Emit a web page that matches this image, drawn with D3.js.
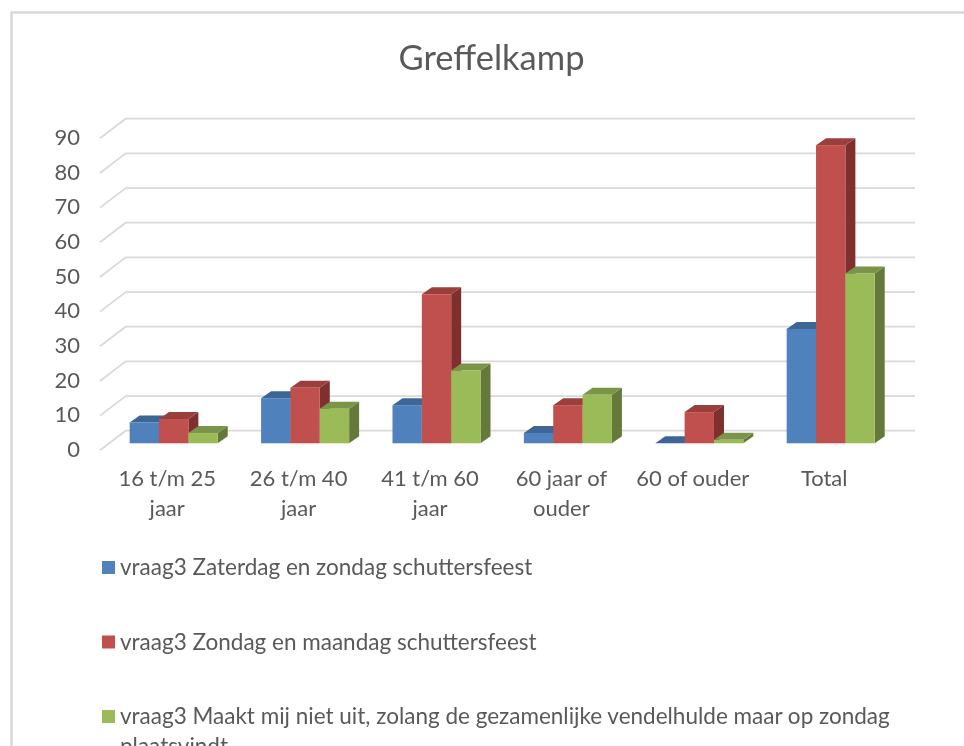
<!DOCTYPE html>
<html>
<head>
<meta charset="utf-8">
<script src="https://cdn.jsdelivr.net/npm/d3@7"></script>
<style>
html, body { margin: 0; padding: 0; background: #fff; overflow: hidden; }
svg { display: block; filter: blur(0.5px); }
text { font-family: Lato, "Open Sans", sans-serif; fill: #595959; }
</style>
</head>
<body>
<svg id="chart" width="964" height="746"></svg>
<script>
// chart data
var categories = [["16 t/m 25", "jaar"], ["26 t/m 40", "jaar"], ["41 t/m 60", "jaar"], ["60 jaar of", "ouder"], ["60 of ouder"], ["Total"]];
var zaterdag = [6, 13, 11, 3, 0, 33];
var zondag = [7, 16, 43, 11, 9, 86];
var maaktNietUit = [3, 10, 21, 14, 1, 49];
var yTicks = [0, 10, 20, 30, 40, 50, 60, 70, 80, 90];
var legendLabels = [
	["vraag3 Zaterdag en zondag schuttersfeest"],
	["vraag3 Zondag en maandag schuttersfeest"],
	["vraag3 Maakt mij niet uit, zolang de gezamenlijke vendelhulde maar op zondag", "plaatsvindt"]
];

var seriesValues = [zaterdag, zondag, maaktNietUit];
var colors = [
	{front: "#4f81bd", top: "#3d6696", side: "#2f5280"},
	{front: "#c0504d", top: "#9b3f3d", side: "#7f2f2d"},
	{front: "#9bbb59", top: "#7a9448", side: "#657a3a"}
];
var depthX = 10, depthY = 7;
var wallY = 12.6;

var svg = d3.select("#chart");

// frame of the chart area, cut off by the window on the right and bottom
svg.append("path")
	.attr("d", "M11.5,746V12.5H964")
	.attr("fill", "none")
	.attr("stroke", "#d9d9d9")
	.attr("stroke-width", 2.5);

svg.append("text")
	.attr("x", 491.5)
	.attr("y", 70)
	.attr("text-anchor", "middle")
	.style("font-size", "34.5px")
	.text("Greffelkamp");

var y = d3.scaleLinear().domain([0, 90]).range([443.3, 131.3]);
var x0 = d3.scaleBand()
	.domain(d3.range(categories.length))
	.range([108, 108 + 131.4 * categories.length])
	.paddingInner(0.33)
	.paddingOuter(0.165);
var x1 = d3.scaleBand().domain(d3.range(seriesValues.length)).range([0, x0.bandwidth()]);

// gridlines on the floor and back wall
svg.append("g").selectAll("path").data(yTicks).enter().append("path")
	.attr("d", function(d) {
		var py = y(d);
		return "M100," + (py + 7) + "L125.7," + (py - wallY) + "H915";
	})
	.attr("fill", "none")
	.attr("stroke", "#d9d9d9")
	.attr("stroke-width", 1.8);

var yAxis = d3.axisLeft(y).tickValues(yTicks).tickSize(0).tickPadding(0);
var yG = svg.append("g").attr("transform", "translate(80,6)").call(yAxis);
yG.select(".domain").remove();
yG.selectAll("text").style("font-size", "22px").style("font-family", "Lato, sans-serif").attr("fill", "#595959");

// 3d bars, left to right so the later ones sit on top
categories.forEach(function(cat, i) {
	seriesValues.forEach(function(vals, s) {
		var bx = x0(i) + x1(s), w = x1.bandwidth(), top = y(vals[i]), base = y(0);
		var g = svg.append("g");
		g.append("path")
			.attr("d", "M" + (bx + w) + "," + top + "l" + depthX + "," + (-depthY) + "V" + (base - depthY) + "L" + (bx + w) + "," + base + "Z")
			.attr("fill", colors[s].side);
		g.append("path")
			.attr("d", "M" + bx + "," + top + "l" + depthX + "," + (-depthY) + "h" + w + "l" + (-depthX) + "," + depthY + "Z")
			.attr("fill", colors[s].top);
		g.append("rect")
			.attr("x", bx)
			.attr("y", top)
			.attr("width", w)
			.attr("height", base - top)
			.attr("fill", colors[s].front);
	});
});

// category labels sit a little left of the bars because of the 3d view
var catG = svg.append("g").selectAll("text").data(categories).enter().append("text")
	.attr("text-anchor", "middle")
	.attr("x", function(d, i) { return x0(i) + x0.bandwidth() / 2 - 6.5; })
	.attr("y", 486)
	.style("font-size", "22px");
catG.selectAll("tspan").data(function(d) { return d; }).enter().append("tspan")
	.attr("x", function() { return d3.select(this.parentNode).attr("x"); })
	.attr("dy", function(d, i) { return i ? 30 : 0; })
	.text(function(d) { return d; });

// legend
var legendY = [574, 648.5, 723];
var legend = svg.append("g").selectAll("g").data(legendLabels).enter().append("g");
legend.append("rect")
	.attr("x", 102)
	.attr("y", function(d, i) { return legendY[i] - 13; })
	.attr("width", 13)
	.attr("height", 13)
	.attr("fill", function(d, i) { return colors[i].front; });
legend.each(function(lines, i) {
	d3.select(this).selectAll("text").data(lines).enter().append("text")
		.attr("x", 120)
		.attr("y", function(d, j) { return legendY[i] + 1 + j * 30; })
		.style("font-size", "22.5px")
		.text(function(d) { return d; });
});
</script>
</body>
</html>
